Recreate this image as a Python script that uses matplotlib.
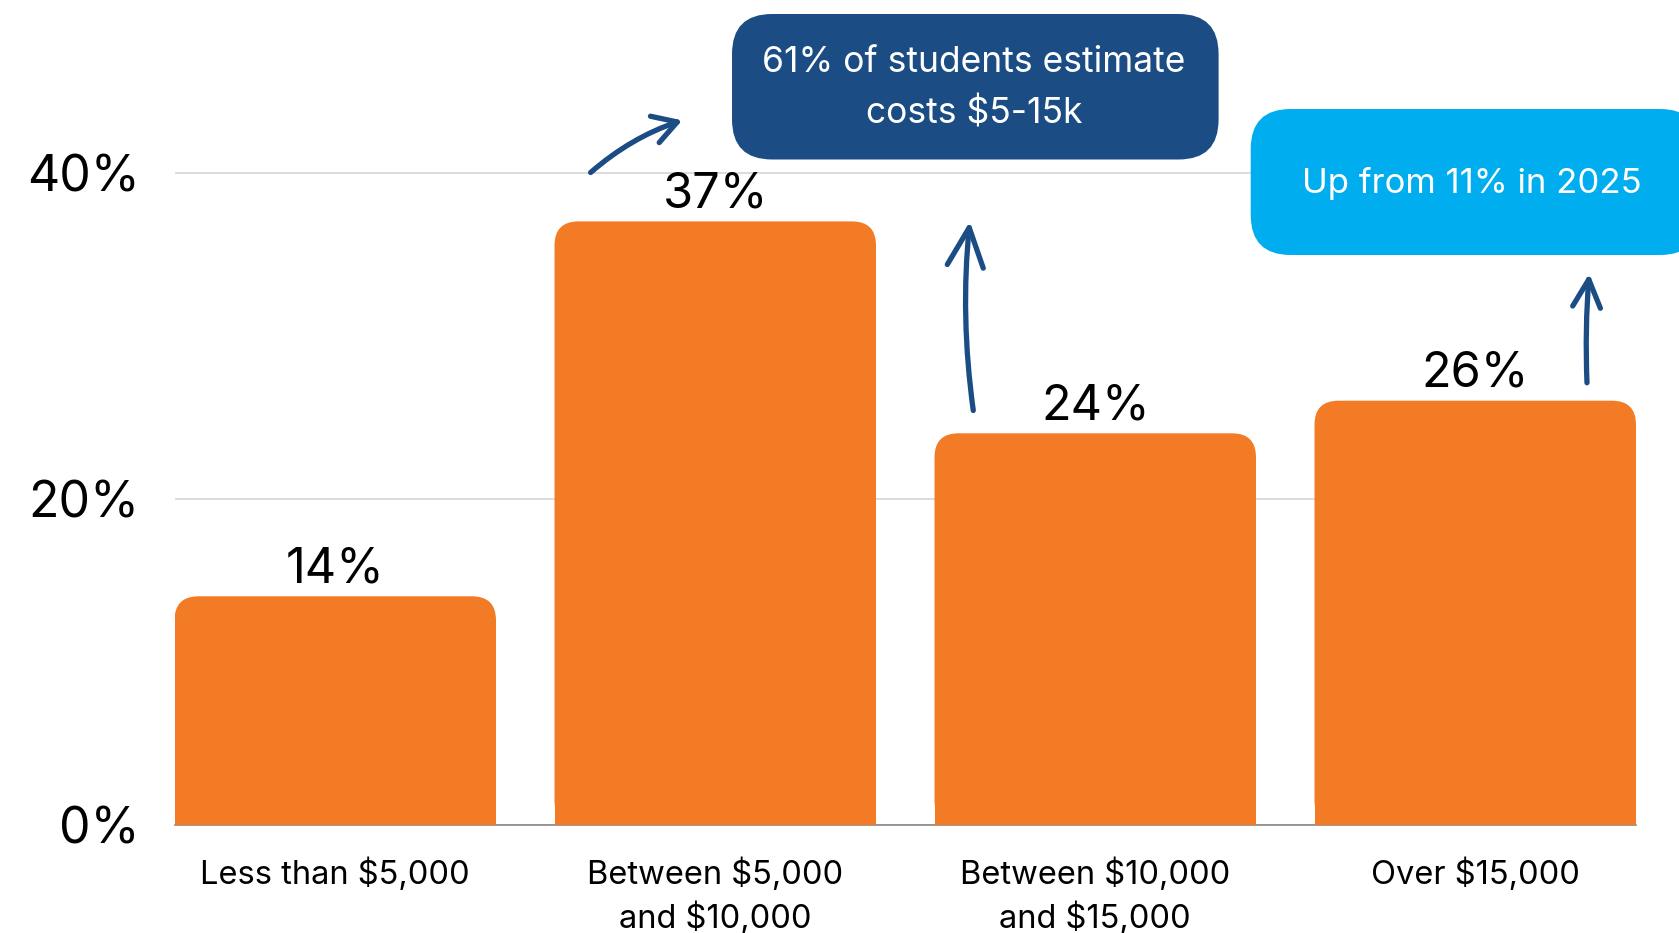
import matplotlib
matplotlib.use("Agg")
import matplotlib.pyplot as plt
from matplotlib.patches import FancyBboxPatch

plt.rcParams['font.family'] = ['Inter', 'DejaVu Sans']

# ---- data ----
categories = ["Less than $5,000", "Between $5,000\nand $10,000",
              "Between $10,000\nand $15,000", "Over $15,000"]
shares = [14, 37, 24, 26]
y_ticks = [0, 20, 40]
note_main = "61% of students estimate\ncosts $5-15k"
note_trend = "Up from 11% in 2025"

ORANGE = "#F47B25"
NAVY = "#1B4D84"
SKY = "#00AEEF"

W, H = 1679, 933
fig = plt.figure(figsize=(W / 100, H / 100), dpi=100)
ax = fig.add_axes([174.5 / W, 108.5 / H, (1636 - 174.5) / W, 815 / H])

bar_w = 0.846
x = range(len(categories))
bars = ax.bar(x, shares, width=bar_w, color=ORANGE, zorder=3)
ax.set_xlim(-bar_w / 2, len(categories) - 1 + bar_w / 2)
ax.set_ylim(0, 50)


def round_tops(ax, bars, radius_px):
    # swap the square top corners for rounded ones (radius given in pixels)
    (x0, y0), (x1, y1) = ax.transData.transform([(0, 0), (1, 1)])
    px_x, px_y = x1 - x0, y1 - y0
    r = radius_px / px_x
    for b in bars:
        bx, bw, bh = b.get_x(), b.get_width(), b.get_height()
        b.set_height(bh - radius_px / px_y)
        ax.add_patch(FancyBboxPatch((bx, 0), bw, bh,
                                    boxstyle=f"round,pad=0,rounding_size={r}",
                                    mutation_aspect=px_x / px_y,
                                    fc=b.get_facecolor(), ec="none", zorder=3))


round_tops(ax, bars, 24)

for xi, v in zip(x, shares):
    ax.annotate(f"{v}%", (xi, v), xytext=(0, 19.5), textcoords="offset points",
                ha="center", va="center", fontsize=35, color="black",
                annotation_clip=False, zorder=5)

ax.set_yticks(y_ticks)
ax.set_yticklabels([f"{t}%" for t in y_ticks], fontsize=36)
ax.set_xticks(list(x))
ax.set_xticklabels(categories, fontsize=23.5, linespacing=1.4, va="top")
ax.tick_params(axis="y", length=0, pad=25)
ax.tick_params(axis="x", length=0, pad=24)
for lbl in ax.get_yticklabels():
    lbl.set_verticalalignment("center_baseline")

ax.grid(axis="y", color="#D9D9D9", lw=1.3, zorder=0)
ax.set_axisbelow(True)
for s in ["top", "right", "left"]:
    ax.spines[s].set_visible(False)
ax.spines["bottom"].set_color("#888888")
ax.spines["bottom"].set_linewidth(1.2)

# ---- callout boxes ----
def callout(x0, top, x1, bottom, color, zorder=6):
    box = FancyBboxPatch((x0 / W, 1 - bottom / H), (x1 - x0) / W, (bottom - top) / H,
                         boxstyle=f"round,pad=0,rounding_size={40 / W}",
                         mutation_aspect=W / H, transform=fig.transFigure,
                         fc=color, ec="none", zorder=zorder)
    fig.add_artist(box)


callout(732, 14, 1218.6, 159.5, NAVY)
fig.text(974 / W, 1 - 88 / H, note_main, color="white", fontsize=25.5,
         ha="center", va="center", linespacing=1.65, zorder=7)

callout(1250.7, 109, 1700, 255, SKY)
fig.text(1472 / W, 1 - 183 / H, note_trend, color="white", fontsize=25,
         ha="center", va="center", zorder=7)


# ---- hand-drawn style arrows ----
def sketch_arrow(start, end, rad, head_len, head_w):
    ax.annotate("", xy=end, xytext=start, annotation_clip=False,
                arrowprops=dict(arrowstyle=f"->,head_length={head_len},head_width={head_w}",
                                color=NAVY, lw=3.8, shrinkA=0, shrinkB=0,
                                mutation_scale=20,
                                connectionstyle=f"arc3,rad={rad}",
                                capstyle="round", joinstyle="round"),
                zorder=6)


sketch_arrow((0.672, 40.0), (0.913, 43.2), -0.1, 0.85, 0.5)
sketch_arrow((1.679, 25.4), (1.670, 37.0), -0.06, 1.4, 0.65)
sketch_arrow((3.294, 27.1), (3.300, 33.8), -0.03, 1.0, 0.5)

fig.savefig("out.png", dpi=100)
